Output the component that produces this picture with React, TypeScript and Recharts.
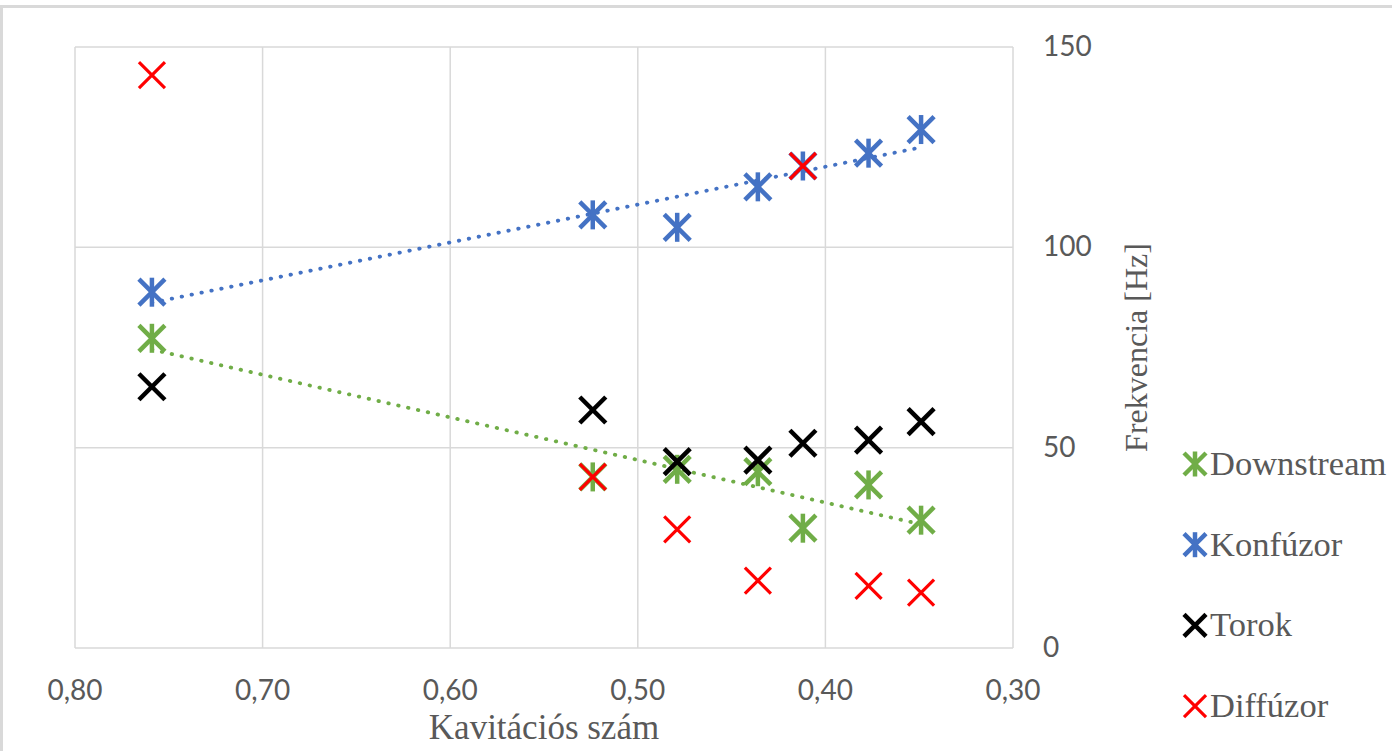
import React from 'react';
import { ScatterChart, Scatter, XAxis, YAxis, CartesianGrid } from 'recharts';

// ---- data ----
const CAVITATION = [0.759, 0.524, 0.479, 0.436, 0.412, 0.377, 0.349];
const DOWNSTREAM = [77.3, 42.7, 44.6, 44.0, 29.9, 40.7, 31.9];
const KONFUZOR = [88.8, 108.1, 105.0, 115.1, 120.3, 123.5, 129.4];
const TOROK = [65.2, 59.4, 46.5, 46.9, 51.1, 51.9, 56.5];
const DIFFUZOR = [143.0, 42.7, 29.6, 16.8, 120.3, 15.5, 13.8];
const X_TICKS = [0.8, 0.7, 0.6, 0.5, 0.4, 0.3];
const Y_TICKS = [0, 50, 100, 150];
const SERIES_NAMES = ['Downstream', 'Konfúzor', 'Torok', 'Diffúzor'];
const X_TITLE = 'Kavitációs szám';
const Y_TITLE = 'Frekvencia [Hz]';

const GREEN = '#70ad47';
const BLUE = '#4472c4';
const BLACK = '#000000';
const RED = '#ff0000';
const TEXT = '#595959';
const GRID = '#d9d9d9';
const SERIF = '"Liberation Serif", "Times New Roman", serif';
const SANS = 'Lato, "Open Sans", sans-serif';

const toPoints = (ys: number[]) => CAVITATION.map((x, i) => ({ x, y: ys[i] }));

// least-squares linear trendline (as Excel draws it), from min x to max x
const linearTrend = (ys: number[]) => {
  const n = CAVITATION.length;
  const mx = CAVITATION.reduce((a, b) => a + b, 0) / n;
  const my = ys.reduce((a, b) => a + b, 0) / n;
  let sxy = 0;
  let sxx = 0;
  CAVITATION.forEach((x, i) => {
    sxy += (x - mx) * (ys[i] - my);
    sxx += (x - mx) * (x - mx);
  });
  const slope = sxy / sxx;
  const lo = Math.min(...CAVITATION);
  const hi = Math.max(...CAVITATION);
  return [
    { x: hi, y: my + slope * (hi - mx) },
    { x: lo, y: my + slope * (lo - mx) },
  ];
};

const XMark = ({ cx, cy, color, r, w }: any) => (
  <g>
    <line x1={cx - r} y1={cy - r} x2={cx + r} y2={cy + r} stroke={color} strokeWidth={w} />
    <line x1={cx - r} y1={cy + r} x2={cx + r} y2={cy - r} stroke={color} strokeWidth={w} />
  </g>
);

const StarMark = ({ cx, cy, color, r, w }: any) => (
  <g>
    <line x1={cx - r} y1={cy - r} x2={cx + r} y2={cy + r} stroke={color} strokeWidth={w} />
    <line x1={cx - r} y1={cy + r} x2={cx + r} y2={cy - r} stroke={color} strokeWidth={w} />
    <line x1={cx} y1={cy - r - 1.5} x2={cx} y2={cy + r + 1.5} stroke={color} strokeWidth={w} />
  </g>
);

const fmtX = (v: number) => v.toFixed(2).replace('.', ',');

const XTick = ({ x, y, payload }: any) => (
  <text x={x} y={y + 52} textAnchor="middle" fill={TEXT} fontFamily={SANS} fontSize={28}>
    {fmtX(payload.value)}
  </text>
);

const YTick = ({ x, y, payload }: any) => (
  <text x={x + 30} y={y + 9} textAnchor="start" fill={TEXT} fontFamily={SANS} fontSize={28}>
    {payload.value}
  </text>
);

const MARKERS = [
  { name: SERIES_NAMES[0], color: GREEN, star: true, w: 4.5 },
  { name: SERIES_NAMES[1], color: BLUE, star: true, w: 4.5 },
  { name: SERIES_NAMES[2], color: BLACK, star: false, w: 4.5 },
  { name: SERIES_NAMES[3], color: RED, star: false, w: 3.2 },
];

const trendLine = (color: string) => ({
  stroke: color,
  strokeWidth: 3.8,
  strokeDasharray: '0.5 9.6',
  strokeLinecap: 'round' as const,
});

export default function App() {
  const series = [DOWNSTREAM, KONFUZOR, TOROK, DIFFUZOR];
  return (
    <div style={{ position: 'absolute', left: 0, top: 0, width: 1392, height: 751, background: '#fff', overflow: 'hidden' }}>
      <style>{'body{margin:0;overflow:hidden}'}</style>
      <div
        style={{
          position: 'absolute',
          left: 0,
          top: 5,
          width: 1392,
          height: 746,
          borderTop: `3px solid ${GRID}`,
          borderLeft: `3px solid ${GRID}`,
          boxSizing: 'border-box',
        }}
      />
      <div style={{ position: 'absolute', left: 0, top: 0 }}>
        <ScatterChart width={1392} height={751} margin={{ top: 47, right: 0, bottom: 0, left: 75 }}>
          <CartesianGrid stroke={GRID} strokeWidth={1.5} />
          <XAxis
            type="number"
            dataKey="x"
            domain={[0.3, 0.8]}
            ticks={X_TICKS}
            reversed
            interval={0}
            height={103}
            axisLine={false}
            tickLine={false}
            tickSize={0}
            tickMargin={0}
            tick={<XTick />}
            label={{
              content: ({ viewBox }: any) => (
                <text
                  x={viewBox.x + viewBox.width / 2}
                  y={viewBox.y + 91}
                  textAnchor="middle"
                  fill={TEXT}
                  fontFamily={SERIF}
                  fontSize={35}
                >
                  {X_TITLE}
                </text>
              ),
            }}
          />
          <YAxis
            type="number"
            dataKey="y"
            orientation="right"
            domain={[0, 150]}
            ticks={Y_TICKS}
            interval={0}
            width={379}
            axisLine={false}
            tickLine={false}
            tickSize={0}
            tickMargin={0}
            tick={<YTick />}
            label={{
              content: ({ viewBox }: any) => {
                const lx = viewBox.x + 134;
                const ly = viewBox.y + viewBox.height / 2;
                return (
                  <text
                    x={lx}
                    y={ly}
                    transform={`rotate(-90 ${lx} ${ly})`}
                    textAnchor="middle"
                    fill={TEXT}
                    fontFamily={SERIF}
                    fontSize={32}
                  >
                    {Y_TITLE}
                  </text>
                );
              },
            }}
          />
          <Scatter
            name="Downstream trend"
            data={linearTrend(DOWNSTREAM)}
            fill={GREEN}
            line={trendLine(GREEN)}
            shape={() => <g />}
            isAnimationActive={false}
          />
          <Scatter
            name="Konfúzor trend"
            data={linearTrend(KONFUZOR)}
            fill={BLUE}
            line={trendLine(BLUE)}
            shape={() => <g />}
            isAnimationActive={false}
          />
          {MARKERS.map((m, i) => (
            <Scatter
              key={m.name}
              name={m.name}
              data={toPoints(series[i])}
              fill={m.color}
              isAnimationActive={false}
              shape={(p: any) =>
                m.star ? (
                  <StarMark cx={p.cx} cy={p.cy} color={m.color} r={13} w={m.w} />
                ) : (
                  <XMark cx={p.cx} cy={p.cy} color={m.color} r={13} w={m.w} />
                )
              }
            />
          ))}
        </ScatterChart>
      </div>
      <svg
        width={1392}
        height={751}
        style={{ position: 'absolute', left: 0, top: 0, pointerEvents: 'none' }}
      >
        {MARKERS.map((m, i) => {
          const cy = 464 + i * 80.7;
          return (
            <g key={m.name}>
              {m.star ? (
                <StarMark cx={1195} cy={cy} color={m.color} r={11} w={m.w} />
              ) : (
                <XMark cx={1195} cy={cy} color={m.color} r={11} w={m.w} />
              )}
              <text x={1210} y={cy + 11} fill={TEXT} fontFamily={SERIF} fontSize={34.5}>
                {m.name}
              </text>
            </g>
          );
        })}
      </svg>
    </div>
  );
}
